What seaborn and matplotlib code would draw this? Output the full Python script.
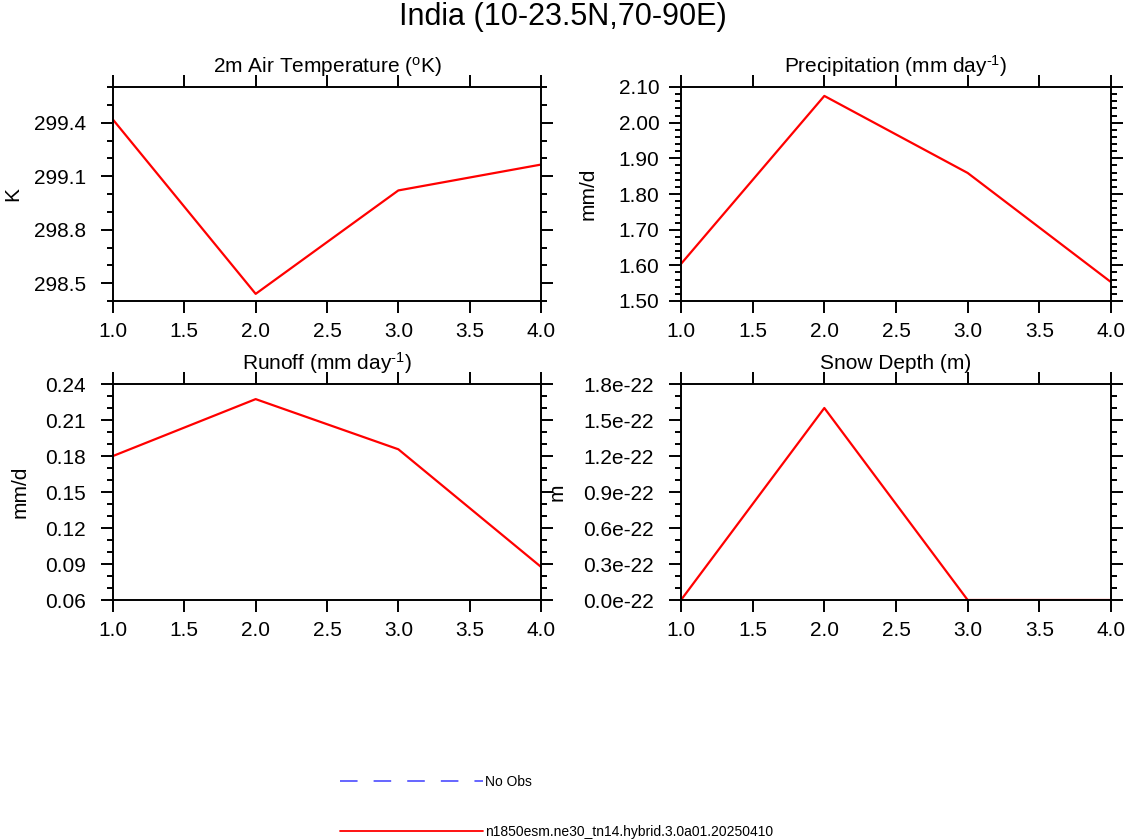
import numpy as np
import pandas as pd
import matplotlib
matplotlib.use('Agg')
import matplotlib.pyplot as plt
from matplotlib.lines import Line2D
from matplotlib.ticker import FuncFormatter, FormatStrFormatter
import seaborn as sns

# values
step = [1, 2, 3, 4]
tas = [299.417, 298.44, 299.02, 299.165]        # 2m air temperature, K
precip = [1.604, 2.075, 1.859, 1.553]           # mm/day
runoff = [0.180, 0.2274, 0.1856, 0.0876]        # mm/day
snowdp = [0.0, 1.6e-22, 0.0, 0.0]               # m

case_name = 'n1850esm.ne30_tn14.hybrid.3.0a01.20250410'
obs_name = 'No Obs'

sns.set_style('ticks')
plt.rcParams['font.family'] = ['Liberation Sans', 'DejaVu Sans']
plt.rcParams['mathtext.fontset'] = 'custom'
plt.rcParams['mathtext.rm'] = 'Liberation Sans'
plt.rcParams['mathtext.it'] = 'Liberation Sans:italic'
for k in ['text.color', 'axes.labelcolor', 'xtick.color', 'ytick.color', 'axes.edgecolor']:
    plt.rcParams[k] = 'black'

fig = plt.figure(figsize=(11.25, 8.4), dpi=100)

W, H = 1125, 840
FS = 15


def make_ax(x0, x1, y0, y1):
    return fig.add_axes([x0 / W, 1 - y1 / H, (x1 - x0) / W, (y1 - y0) / H])


panels = [
    # (axes box px, data, title, ylabel, ylim, major, minor, fmt, ylabel x, ypad)
    ((113, 541, 87, 301), tas, r'2m Air Temperature ($^{\rm o}$K)', 'K',
     (298.4, 299.6), np.arange(298.5, 299.45, 0.3), np.arange(298.4, 299.65, 0.1),
     FormatStrFormatter('%.1f'), -0.212, 11),
    ((681, 1111, 87, 301), precip, r'Precipitation (mm day$^{\text{-1}}$)', 'mm/d',
     (1.5, 2.1), np.arange(1.5, 2.15, 0.1), np.arange(1.5, 2.11, 0.02),
     FormatStrFormatter('%.2f'), -0.193, 7),
    ((113, 541, 384, 600), runoff, r'Runoff (mm day$^{\text{-1}}$)', 'mm/d',
     (0.06, 0.24), np.arange(0.06, 0.245, 0.03), np.arange(0.06, 0.245, 0.01),
     FormatStrFormatter('%.2f'), -0.194, 11),
    ((681, 1111, 384, 600), snowdp, 'Snow Depth (m)', 'm',
     (0.0, 1.8e-22), np.arange(0, 1.85, 0.3) * 1e-22, np.arange(0, 1.85, 0.1) * 1e-22,
     FuncFormatter(lambda v, p: f'{v / 1e-22:.1f}e-22'), -0.267, 11),
]

for box, vals, title, ylab, ylim, major, minor, fmt, labx, ypad in panels:
    ax = make_ax(*box)
    df = pd.DataFrame({'x': step, 'y': vals})
    sns.lineplot(data=df, x='x', y='y', ax=ax, color='red', linewidth=1.6)
    ax.set_xlim(1, 4)
    ax.set_ylim(*ylim)
    ax.set_xticks(np.arange(1, 4.01, 0.5))
    ax.xaxis.set_major_formatter(FormatStrFormatter('%.1f'))
    ax.set_yticks(major)
    ax.set_yticks(minor, minor=True)
    ax.yaxis.set_major_formatter(fmt)
    ax.set_xlabel('')
    ax.set_ylabel(ylab, fontsize=FS)
    ax.yaxis.set_label_coords(labx, 0.5)
    ax.set_title(title, fontsize=FS, pad=10.5)
    for s in ax.spines.values():
        s.set_visible(True)
        s.set_linewidth(1.4)
    ax.tick_params(which='both', direction='out', top=True, right=True,
                   width=1.4, labelsize=FS)
    ax.tick_params(which='major', length=8.5)
    ax.tick_params(which='minor', length=4)
    ax.tick_params(axis='x', pad=6.5)
    ax.tick_params(axis='y', pad=ypad)

fig.suptitle('India (10-23.5N,70-90E)', fontsize=22, y=0.998, va='top')

handles = [
    Line2D([], [], color='#3c3cff', linewidth=1.1, linestyle=(0, (11.5, 10.5))),
    Line2D([], [], color='red', linewidth=1.3),
]
fig.legend(handles, [obs_name, case_name], loc='upper left',
           bbox_to_anchor=(340 / W, 1 - 775 / H), frameon=False, fontsize=10,
           handlelength=10.3, handletextpad=0.15, labelspacing=2.6,
           borderpad=0, borderaxespad=0)

fig.savefig('out.png', dpi=100)
